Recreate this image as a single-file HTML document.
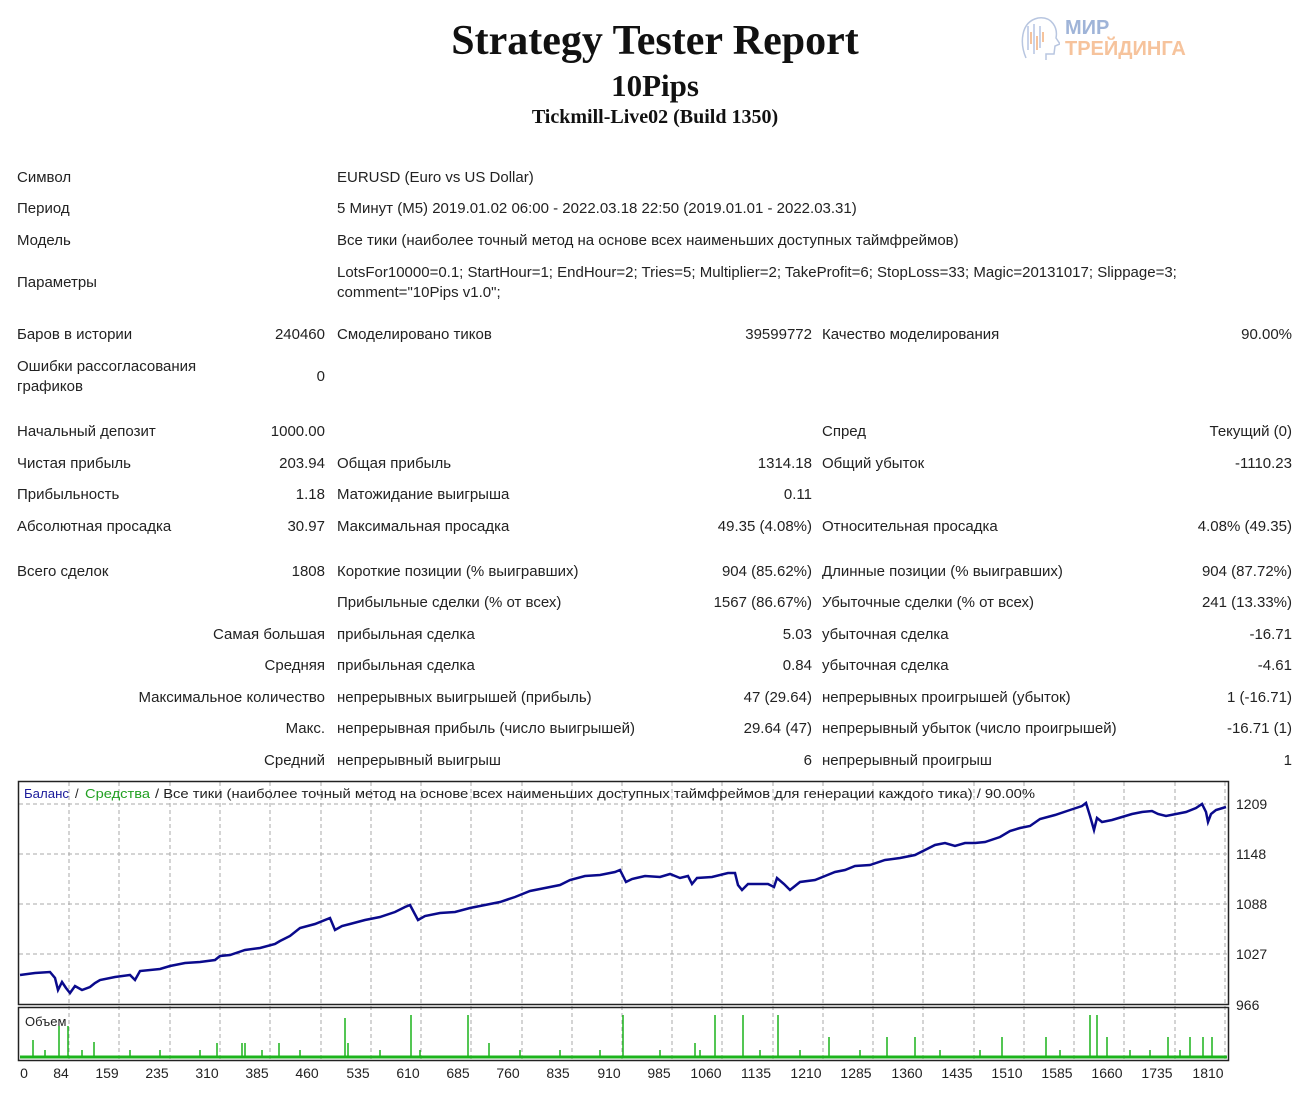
<!DOCTYPE html>
<html><head><meta charset="utf-8"><style>
body{margin:0;width:1300px;height:1101px;background:#fff;position:relative;overflow:hidden;font-family:"Liberation Sans","DejaVu Sans",sans-serif;font-size:15px;color:#222}
.t{position:absolute;white-space:nowrap;line-height:18px;transform:translateY(2px)}
.r{text-align:right}
.ser{font-family:"Liberation Serif",serif;font-weight:bold;color:#111;left:0;width:1310px;text-align:center;position:absolute;white-space:nowrap}
</style></head><body>
<div class="ser" style="top:17px;font-size:42px">Strategy Tester Report</div>
<div class="ser" style="top:68px;font-size:31px">10Pips</div>
<div class="ser" style="top:106px;font-size:20px">Tickmill-Live02 (Build 1350)</div>
<div class="t" style="left:1065px;top:17px;font-size:20px;font-weight:bold;color:#9fb4d8">МИР</div>
<div class="t" style="left:1065px;top:38px;font-size:20px;font-weight:bold;color:#f6c39c">ТРЕЙДИНГА</div>
<svg style="position:absolute;left:1018px;top:14px" width="42" height="50"><path d="M8 44 C2 30 2 8 20 4 C34 2 40 14 38 24 L42 30 L37 32 L36 40 L28 40 L28 46" fill="none" stroke="#b8c6e0" stroke-width="1.5"/><g stroke="#c8d3ea" stroke-width="2"><line x1="10" y1="12" x2="10" y2="36"/><line x1="16" y1="10" x2="16" y2="40"/><line x1="22" y1="12" x2="22" y2="34"/></g><g stroke="#f6c39c" stroke-width="2"><line x1="13" y1="18" x2="13" y2="30"/><line x1="19" y1="22" x2="19" y2="36"/><line x1="25" y1="18" x2="25" y2="28"/></g></svg>

<div class="t" style="left:17px;top:167px">Символ</div><div class="t" style="left:337px;top:167px">EURUSD (Euro vs US Dollar)</div>
<div class="t" style="left:17px;top:198px">Период</div><div class="t" style="left:337px;top:198px">5 Минут (M5) 2019.01.02 06:00 - 2022.03.18 22:50 (2019.01.01 - 2022.03.31)</div>
<div class="t" style="left:17px;top:230px">Модель</div><div class="t" style="left:337px;top:230px">Все тики (наиболее точный метод на основе всех наименьших доступных таймфреймов)</div>
<div class="t" style="left:17px;top:272px">Параметры</div><div class="t" style="left:337px;top:262px">LotsFor10000=0.1; StartHour=1; EndHour=2; Tries=5; Multiplier=2; TakeProfit=6; StopLoss=33; Magic=20131017; Slippage=3;</div><div class="t" style="left:337px;top:282px">comment="10Pips v1.0";</div>
<div class="t" style="left:17px;top:324px">Баров в истории</div><div class="t r" style="right:975px;top:324px">240460</div><div class="t" style="left:337px;top:324px">Смоделировано тиков</div><div class="t r" style="right:488px;top:324px">39599772</div><div class="t" style="left:822px;top:324px">Качество моделирования</div><div class="t r" style="right:8px;top:324px">90.00%</div>
<div class="t" style="left:17px;top:356px">Ошибки рассогласования</div><div class="t" style="left:17px;top:376px">графиков</div><div class="t r" style="right:975px;top:366px">0</div>
<div class="t" style="left:17px;top:421px">Начальный депозит</div><div class="t r" style="right:975px;top:421px">1000.00</div><div class="t" style="left:822px;top:421px">Спред</div><div class="t r" style="right:8px;top:421px">Текущий (0)</div>
<div class="t" style="left:17px;top:453px">Чистая прибыль</div><div class="t r" style="right:975px;top:453px">203.94</div><div class="t" style="left:337px;top:453px">Общая прибыль</div><div class="t r" style="right:488px;top:453px">1314.18</div><div class="t" style="left:822px;top:453px">Общий убыток</div><div class="t r" style="right:8px;top:453px">-1110.23</div>
<div class="t" style="left:17px;top:484px">Прибыльность</div><div class="t r" style="right:975px;top:484px">1.18</div><div class="t" style="left:337px;top:484px">Матожидание выигрыша</div><div class="t r" style="right:488px;top:484px">0.11</div>
<div class="t" style="left:17px;top:516px">Абсолютная просадка</div><div class="t r" style="right:975px;top:516px">30.97</div><div class="t" style="left:337px;top:516px">Максимальная просадка</div><div class="t r" style="right:488px;top:516px">49.35 (4.08%)</div><div class="t" style="left:822px;top:516px">Относительная просадка</div><div class="t r" style="right:8px;top:516px">4.08% (49.35)</div>
<div class="t" style="left:17px;top:561px">Всего сделок</div><div class="t r" style="right:975px;top:561px">1808</div><div class="t" style="left:337px;top:561px">Короткие позиции (% выигравших)</div><div class="t r" style="right:488px;top:561px">904 (85.62%)</div><div class="t" style="left:822px;top:561px">Длинные позиции (% выигравших)</div><div class="t r" style="right:8px;top:561px">904 (87.72%)</div>
<div class="t" style="left:337px;top:592px">Прибыльные сделки (% от всех)</div><div class="t r" style="right:488px;top:592px">1567 (86.67%)</div><div class="t" style="left:822px;top:592px">Убыточные сделки (% от всех)</div><div class="t r" style="right:8px;top:592px">241 (13.33%)</div>
<div class="t r" style="right:975px;top:624px">Самая большая</div><div class="t" style="left:337px;top:624px">прибыльная сделка</div><div class="t r" style="right:488px;top:624px">5.03</div><div class="t" style="left:822px;top:624px">убыточная сделка</div><div class="t r" style="right:8px;top:624px">-16.71</div>
<div class="t r" style="right:975px;top:655px">Средняя</div><div class="t" style="left:337px;top:655px">прибыльная сделка</div><div class="t r" style="right:488px;top:655px">0.84</div><div class="t" style="left:822px;top:655px">убыточная сделка</div><div class="t r" style="right:8px;top:655px">-4.61</div>
<div class="t r" style="right:975px;top:687px">Максимальное количество</div><div class="t" style="left:337px;top:687px">непрерывных выигрышей (прибыль)</div><div class="t r" style="right:488px;top:687px">47 (29.64)</div><div class="t" style="left:822px;top:687px">непрерывных проигрышей (убыток)</div><div class="t r" style="right:8px;top:687px">1 (-16.71)</div>
<div class="t r" style="right:975px;top:718px">Макс.</div><div class="t" style="left:337px;top:718px">непрерывная прибыль (число выигрышей)</div><div class="t r" style="right:488px;top:718px">29.64 (47)</div><div class="t" style="left:822px;top:718px">непрерывный убыток (число проигрышей)</div><div class="t r" style="right:8px;top:718px">-16.71 (1)</div>
<div class="t r" style="right:975px;top:750px">Средний</div><div class="t" style="left:337px;top:750px">непрерывный выигрыш</div><div class="t r" style="right:488px;top:750px">6</div><div class="t" style="left:822px;top:750px">непрерывный проигрыш</div><div class="t r" style="right:8px;top:750px">1</div>

<svg style="position:absolute;left:0;top:0" width="1300" height="1101" font-family="Liberation Sans, DejaVu Sans, sans-serif">
<g stroke="#aaa" stroke-dasharray="4,3" stroke-width="1">
<line x1="19" y1="804" x2="1228" y2="804"/><line x1="19" y1="854" x2="1228" y2="854"/><line x1="19" y1="904" x2="1228" y2="904"/><line x1="19" y1="954" x2="1228" y2="954"/>
<path d="M69 782V1060M119 782V1060M170 782V1060M220 782V1060M270 782V1060M321 782V1060M371 782V1060M421 782V1060M471 782V1060M522 782V1060M572 782V1060M622 782V1060M672 782V1060M722 782V1060M773 782V1060M823 782V1060M873 782V1060M923 782V1060M974 782V1060M1024 782V1060M1074 782V1060M1124 782V1060M1175 782V1060M1225 782V1060"/>
</g>
<rect x="18.5" y="781.5" width="1210" height="223" fill="none" stroke="#222" stroke-width="1.5"/>
<rect x="18.5" y="1007.5" width="1210" height="53" fill="none" stroke="#222" stroke-width="1.5"/>
<polyline fill="none" stroke="#0a0a8c" stroke-width="2.5" points="20,975 35,973 50,972 55,978 58,990 62,982 66,988 70,993 75,986 82,990 90,987 95,983 100,980 115,977 130,975 135,980 140,971 160,969 170,966 185,963 200,962 215,960 220,956 230,955 245,950 260,948 275,944 280,941 290,936 300,928 315,924 330,918 335,930 342,926 350,924 365,920 380,917 395,912 405,907 410,905 418,920 425,916 440,913 455,912 470,908 485,905 500,902 515,897 530,891 545,888 560,885 570,880 585,876 600,875 615,872 620,870 626,882 632,879 645,876 660,877 670,874 680,878 688,876 692,884 697,878 712,877 728,873 735,873 738,885 742,890 748,884 760,884 768,884 774,887 777,878 784,884 790,890 800,882 815,880 825,876 835,872 845,870 855,866 870,865 885,860 900,858 915,855 925,850 935,845 945,843 955,846 965,843 975,843 985,842 1000,837 1010,831 1020,828 1030,826 1040,819 1055,815 1070,810 1082,806 1086,803 1090,816 1094,830 1097,818 1102,822 1112,820 1122,817 1132,814 1142,812 1152,811 1158,814 1166,816 1176,814 1186,812 1196,808 1202,804 1206,812 1208,822 1211,814 1216,810 1226,807"/>
<line x1="20" y1="1057" x2="1227" y2="1057" stroke="#1cb41c" stroke-width="3"/>
<text x="24" y="798" font-size="13" fill="#1a1a9a" textLength="45" lengthAdjust="spacingAndGlyphs">Баланс</text><text x="75" y="798" font-size="13" fill="#222">/</text><text x="85" y="798" font-size="13" fill="#22a022" textLength="65" lengthAdjust="spacingAndGlyphs">Средства</text><text x="155" y="798" font-size="13" fill="#222" textLength="880" lengthAdjust="spacingAndGlyphs">/ Все тики (наиболее точный метод на основе всех наименьших доступных таймфреймов для генерации каждого тика) / 90.00%</text>
<text x="25" y="1026" font-size="13" fill="#222">Объем</text>
<g font-size="14" fill="#222"><text x="1236" y="809">1209</text><text x="1236" y="859">1148</text><text x="1236" y="909">1088</text><text x="1236" y="959">1027</text><text x="1236" y="1010">966</text></g>
<g font-size="14" fill="#222" text-anchor="middle"><text x="24" y="1078">0</text><text x="61" y="1078">84</text><text x="107" y="1078">159</text><text x="157" y="1078">235</text><text x="207" y="1078">310</text><text x="257" y="1078">385</text><text x="307" y="1078">460</text><text x="358" y="1078">535</text><text x="408" y="1078">610</text><text x="458" y="1078">685</text><text x="508" y="1078">760</text><text x="558" y="1078">835</text><text x="609" y="1078">910</text><text x="659" y="1078">985</text><text x="706" y="1078">1060</text><text x="756" y="1078">1135</text><text x="806" y="1078">1210</text><text x="856" y="1078">1285</text><text x="907" y="1078">1360</text><text x="957" y="1078">1435</text><text x="1007" y="1078">1510</text><text x="1057" y="1078">1585</text><text x="1107" y="1078">1660</text><text x="1157" y="1078">1735</text><text x="1208" y="1078">1810</text></g>
<path stroke="#1cb41c" stroke-width="1.5" d="M33 1057V1040M59 1057V1026M68 1057V1026M94 1057V1042M217 1057V1043M242 1057V1043M245 1057V1043M279 1057V1043M345 1057V1018M348 1057V1043M411 1057V1015M468 1057V1015M489 1057V1043M623 1057V1015M695 1057V1043M715 1057V1015M743 1057V1015M778 1057V1015M829 1057V1037M887 1057V1037M915 1057V1037M1002 1057V1037M1046 1057V1037M1090 1057V1015M1097 1057V1015M1107 1057V1037M1168 1057V1037M1190 1057V1037M1203 1057V1037M1212 1057V1037M45 1057V1050M82 1057V1050M130 1057V1050M160 1057V1050M200 1057V1050M262 1057V1050M300 1057V1050M380 1057V1050M420 1057V1050M520 1057V1050M560 1057V1050M600 1057V1050M660 1057V1050M700 1057V1050M760 1057V1050M800 1057V1050M860 1057V1050M940 1057V1050M980 1057V1050M1060 1057V1050M1130 1057V1050M1150 1057V1050M1180 1057V1050"/>
</svg>
</body></html>
